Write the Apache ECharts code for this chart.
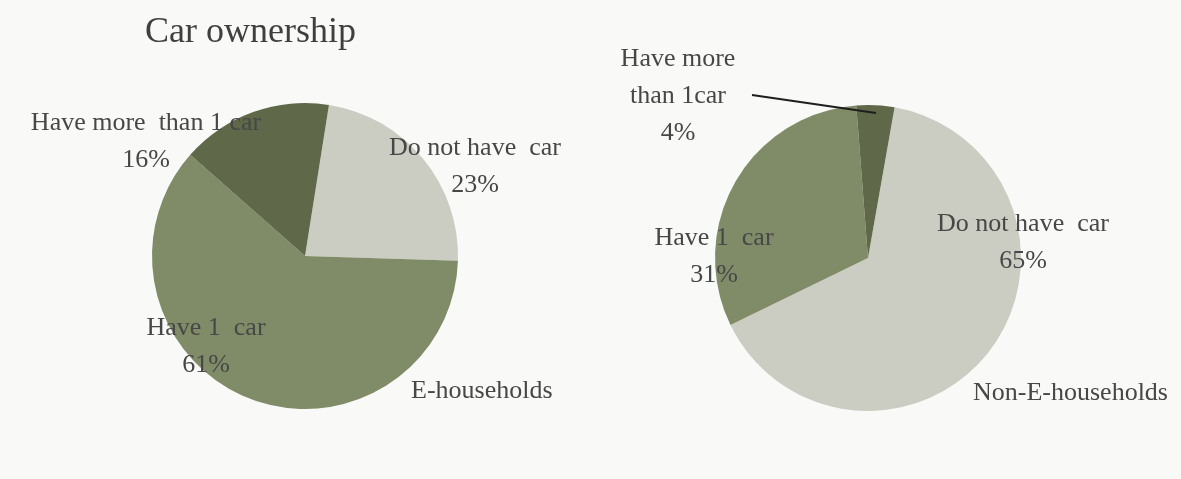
<!DOCTYPE html>
<html>
<head>
<meta charset="utf-8">
<script src="https://cdn.jsdelivr.net/npm/echarts@6/dist/echarts.min.js"></script>
<style>
html,body{margin:0;padding:0;background:#f9f9f7;}
#c{width:1181px;height:479px;}
</style>
</head>
<body>
<div id="c"></div>
<script>
// ---- data ----
const titleText = "Car ownership";
const categories = ["Do not have car", "Have 1 car", "Have more than 1 car"];
const leftLabels = ["Do not have  car", "Have 1  car", "Have more  than 1 car"];
const rightLabels = ["Do not have  car", "Have 1  car", "Have more\nthan 1car"];
const eValues = [23, 61, 16];
const nonEValues = [65, 31, 4];
const groupNames = ["E-households", "Non-E-households"];

// ---- styles ----
const sliceColors = ["#cbcdc2", "#808b68", "#5f6848"];
const textColor = "#474747";
const font = "'Liberation Serif', 'DejaVu Serif', serif";
const leftLabelPos = [[475, 167], [206, 347], [146, 142]];
const rightLabelPos = [[1023, 243], [714, 257], [678, 96]];

function buildData(values, labels) {
  return values.map((v, i) => ({
    name: categories[i], value: v, labelText: labels[i], itemStyle: { color: sliceColors[i] }
  }));
}

const chart = echarts.init(document.getElementById('c'), null, { renderer: 'canvas' });

function labelOpt() {
  return {
    show: true,
    color: textColor,
    fontFamily: font,
    fontSize: 26,
    lineHeight: 37,
    align: 'center',
    width: 320,
    overflow: 'none',
    formatter: function (p) { return p.data.labelText + "\n" + p.value + "%"; }
  };
}

chart.setOption({
  backgroundColor: "#f9f9f7",
  animation: false,
  title: [
    { text: titleText, left: 140, top: 10, textStyle: { fontFamily: font, fontSize: 36, fontWeight: 'normal', color: "#3f3f3f" } },
    { text: groupNames[0], left: 406, top: 373, textStyle: { fontFamily: font, fontSize: 26, fontWeight: 'normal', color: textColor } },
    { text: groupNames[1], left: 968, top: 375, textStyle: { fontFamily: font, fontSize: 26, fontWeight: 'normal', color: textColor } }
  ],
  graphic: [
    { type: 'line', z: 100, shape: { x1: 752, y1: 95, x2: 876, y2: 113 }, style: { stroke: "#1e1e1e", lineWidth: 2 } }
  ],
  series: [
    {
      type: 'pie',
      center: [305, 256],
      radius: 153,
      startAngle: 81,
      clockwise: true,
      data: buildData(eValues, leftLabels),
      label: labelOpt(),
      labelLine: { show: false },
      itemStyle: { borderWidth: 0 },
      emphasis: { disabled: true },
      labelLayout: function (p) {
        const q = leftLabelPos[p.dataIndex];
        return { x: q[0], y: q[1], align: 'center', verticalAlign: 'middle' };
      }
    },
    {
      type: 'pie',
      center: [868, 258],
      radius: 153,
      startAngle: 80,
      clockwise: true,
      data: buildData(nonEValues, rightLabels),
      label: labelOpt(),
      labelLine: { show: false },
      itemStyle: { borderWidth: 0 },
      emphasis: { disabled: true },
      labelLayout: function (p) {
        const q = rightLabelPos[p.dataIndex];
        return { x: q[0], y: q[1], align: 'center', verticalAlign: 'middle' };
      }
    }
  ]
});
</script>
</body>
</html>
